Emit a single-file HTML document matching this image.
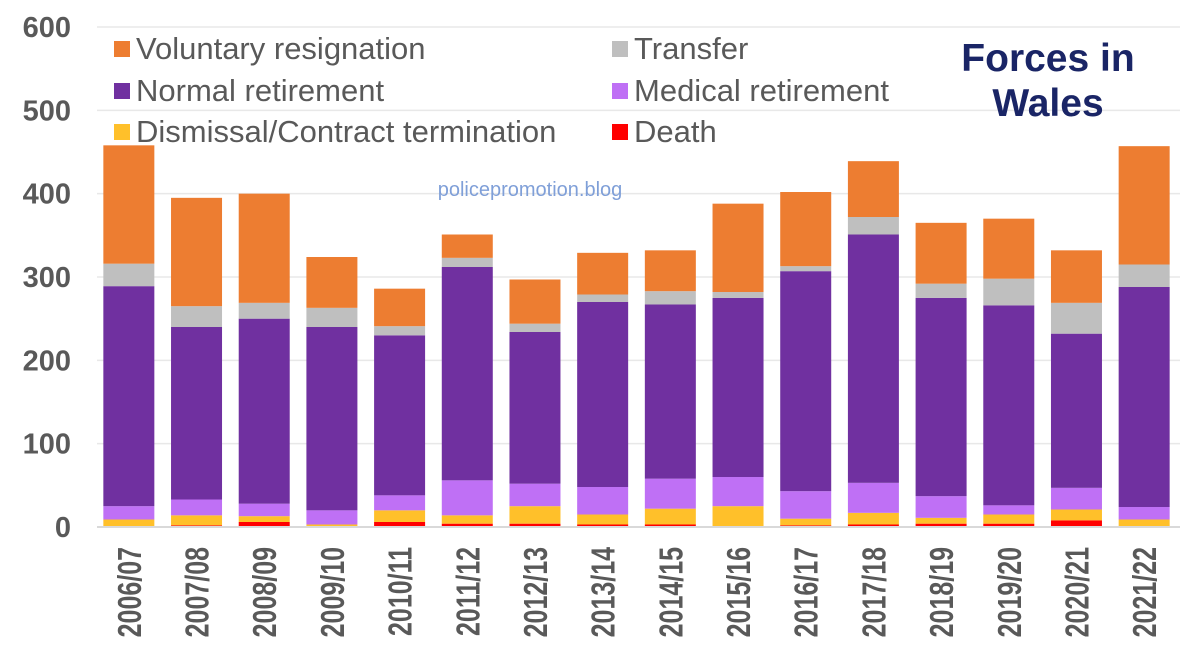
<!DOCTYPE html>
<html><head><meta charset="utf-8"><style>
body{margin:0;background:#fff;}
svg{display:block;font-family:"Liberation Sans",Arial,sans-serif;}
</style></head><body>
<svg id="chart" width="1200" height="649" viewBox="0 0 1200 649">
<g id="grid"></g>
<g id="bars"></g>
<g id="yaxis"></g>
<g id="xaxis"></g>
<g font-size="31" fill="#595959">
 <rect x="114" y="41" width="16" height="16" fill="#ED7D31"/>
 <text x="136" y="59">Voluntary resignation</text>
 <rect x="114" y="83" width="16" height="16" fill="#7030A0"/>
 <text x="136" y="101">Normal retirement</text>
 <rect x="114" y="124" width="16" height="16" fill="#FFC02A"/>
 <text x="136" y="142">Dismissal/Contract termination</text>
 <rect x="612" y="41" width="16" height="16" fill="#BFBFBF"/>
 <text x="634" y="59">Transfer</text>
 <rect x="612" y="83" width="16" height="16" fill="#BF70F5"/>
 <text x="634" y="101">Medical retirement</text>
 <rect x="612" y="124" width="16" height="16" fill="#FF0000"/>
 <text x="634" y="142">Death</text>
</g>
<text x="1048" y="71" text-anchor="middle" font-size="39" font-weight="bold" fill="#1A2566">Forces in</text>
<text x="1048" y="116" text-anchor="middle" font-size="39" font-weight="bold" fill="#1A2566">Wales</text>
<text x="530" y="196" text-anchor="middle" font-size="20" fill="#7F9FD8">policepromotion.blog</text>
</svg>
<script>
const categories=["2006/07","2007/08","2008/09","2009/10","2010/11","2011/12","2012/13","2013/14","2014/15","2015/16","2016/17","2017/18","2018/19","2019/20","2020/21","2021/22"];
const death=[1,2,6,0,6,4,4,3,3,0,2,3,4,4,8,1];
const dismissal=[8,12,7,3,14,10,21,12,19,25,8,14,7,11,13,8];
const medical=[16,19,15,17,18,42,27,33,36,35,33,36,26,11,26,15];
const normal=[264,207,222,220,192,256,182,222,209,215,264,298,238,240,185,264];
const transfer=[27,25,19,23,11,11,10,9,16,7,6,21,17,32,37,27];
const voluntary=[142,130,131,61,45,28,53,50,49,106,89,67,73,72,63,142];
const yTicks=[0,100,200,300,400,500,600];
const series=[["death",death,"#FF0000"],["dismissal",dismissal,"#FFC02A"],["medical",medical,"#BF70F5"],["normal",normal,"#7030A0"],["transfer",transfer,"#BFBFBF"],["voluntary",voluntary,"#ED7D31"]];
const NS="http://www.w3.org/2000/svg";
const x0=97,x1=1180,base=527,top0=27,step=(x1-x0)/categories.length,bw=51;
const y=v=>base-(v/600)*(base-top0);
const xc=i=>x0+step*(i+0.5)-2;
function mk(tag,attrs,parent){const e=document.createElementNS(NS,tag);for(const k in attrs)e.setAttribute(k,attrs[k]);parent.appendChild(e);return e;}
const grid=document.getElementById('grid'),bars=document.getElementById('bars'),ya=document.getElementById('yaxis'),xa=document.getElementById('xaxis');
yTicks.forEach(t=>{
 if(t>0){const l=mk('line',{x1:x0,x2:x1,y1:y(t),y2:y(t),stroke:'#E8E8E8','stroke-width':1.5},grid);
 
 }
 const tx=mk('text',{x:71,y:y(t)+10,'text-anchor':'end','font-size':29,'font-weight':'bold',fill:'#595959'},ya);
 tx.textContent=t;
 
 
});
categories.forEach((c,i)=>{
 let cum=0;
 series.forEach(([n,arr,col])=>{
  const v=arr[i];
  const r=mk('rect',{x:xc(i)-bw/2,y:y(cum+v),width:bw,height:y(cum)-y(cum+v),fill:col},bars);
  
  
  cum+=v;
 });
 const tx=mk('text',{transform:`translate(${xc(i)+12},547) rotate(-90) scale(1,1.35)`,'text-anchor':'end','font-size':25,'font-weight':'bold',fill:'#595959'},xa);
 tx.textContent=c;
 
 
});
const ax=mk('line',{x1:x0,x2:x1,y1:base,y2:base,stroke:'#D9D9D9','stroke-width':2},xa);


</script>
</body></html>
